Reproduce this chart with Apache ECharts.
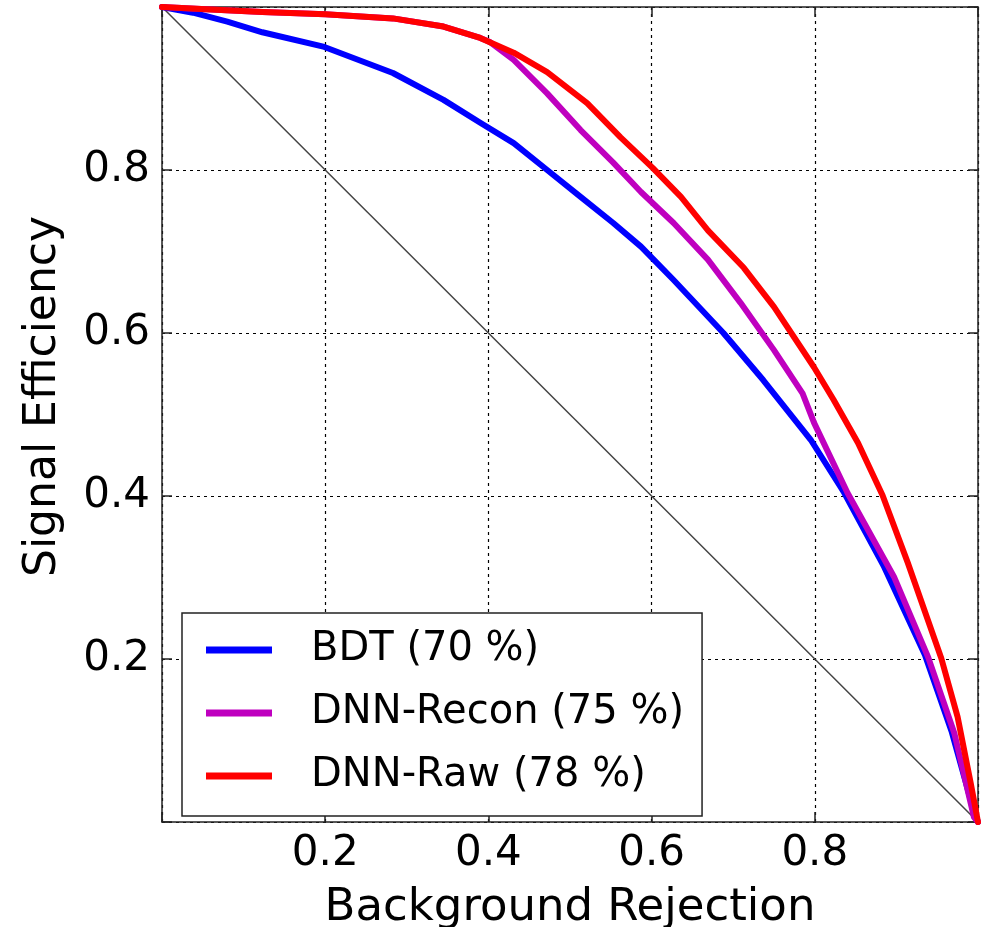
<!DOCTYPE html>
<html>
<head>
<meta charset="utf-8">
<script src="https://cdn.jsdelivr.net/npm/echarts@6/dist/echarts.min.js"></script>
<style>
  html, body { margin: 0; padding: 0; background: #fff; }
  #chart { width: 987px; height: 927px; }
</style>
</head>
<body>
<div id="chart"></div>
<script>
// ROC curves
var bdtRej = [0, 0.038, 0.08, 0.123, 0.199, 0.283, 0.345, 0.39, 0.431, 0.472, 0.513, 0.553, 0.587, 0.627, 0.688, 0.737, 0.795, 0.836, 0.885, 0.935, 0.968, 0.993, 1.0];
var bdtEff = [1.0, 0.993, 0.982, 0.969, 0.951, 0.919, 0.886, 0.858, 0.833, 0.8, 0.767, 0.735, 0.706, 0.665, 0.6, 0.542, 0.469, 0.404, 0.313, 0.205, 0.11, 0.02, 0];

var reconRej = [0, 0.06, 0.123, 0.2, 0.283, 0.345, 0.39, 0.402, 0.431, 0.472, 0.513, 0.553, 0.587, 0.627, 0.669, 0.709, 0.75, 0.785, 0.799, 0.84, 0.897, 0.939, 0.971, 0.995, 1.0];
var reconEff = [1.0, 0.997, 0.994, 0.991, 0.986, 0.976, 0.962, 0.957, 0.935, 0.894, 0.849, 0.809, 0.773, 0.735, 0.69, 0.637, 0.579, 0.526, 0.49, 0.404, 0.301, 0.202, 0.109, 0.006, 0];

var rawRej = [0, 0.06, 0.123, 0.2, 0.283, 0.345, 0.39, 0.431, 0.472, 0.521, 0.562, 0.601, 0.636, 0.669, 0.713, 0.75, 0.799, 0.823, 0.853, 0.883, 0.914, 0.955, 0.975, 0.991, 1.0];
var rawEff = [1.0, 0.997, 0.994, 0.991, 0.986, 0.976, 0.962, 0.944, 0.92, 0.882, 0.84, 0.803, 0.767, 0.726, 0.68, 0.632, 0.558, 0.518, 0.465, 0.401, 0.318, 0.201, 0.129, 0.048, 0];

var diagRej = [0, 1];
var diagEff = [1, 0];

var seriesNames = ['BDT (70 %)', 'DNN-Recon (75 %)', 'DNN-Raw (78 %)'];
var seriesColors = ['#0000ff', '#bf00bf', '#ff0000'];
var tickLabels = ['0.2', '0.4', '0.6', '0.8'];

function pairs(xs, ys) {
    var out = [];
    for (var i = 0; i < xs.length; i++) out.push([xs[i], ys[i]]);
    return out;
}

function tickFmt(v) {
    var s = v.toFixed(1);
    return tickLabels.indexOf(s) >= 0 ? s : '';
}

var font = 'DejaVu Sans';
var gridLine = { show: true, lineStyle: { color: '#000', type: [3, 4], width: 1.2 } };
var axisLine = { show: true, onZero: false, lineStyle: { color: '#222', width: 1.5 } };
var tick = { show: true, inside: true, length: 10, lineStyle: { color: '#222', width: 1.5 } };

var myChart = echarts.init(document.getElementById('chart'));

var option = {
    animation: false,
    backgroundColor: '#fff',
    grid: { left: 162, top: 7, right: 9, bottom: 105, containLabel: false, outerBoundsMode: 'none' },
    legend: {
        orient: 'vertical',
        left: 182,
        top: 613,
        padding: [13, 18, 16, 24],
        backgroundColor: '#fff',
        borderColor: '#222',
        borderWidth: 1.5,
        borderRadius: 0,
        icon: 'rect',
        itemWidth: 66,
        itemHeight: 7,
        itemGap: 15,
        textStyle: { fontFamily: font, fontSize: 40, color: '#000', lineHeight: 48, padding: [0, 0, 0, 34] },
        data: seriesNames
    },
    xAxis: [
        {
            type: 'value', min: 0, max: 1, interval: 0.2,
            name: 'Background Rejection', nameLocation: 'middle', nameGap: 64,
            nameTextStyle: { fontFamily: font, fontSize: 45, color: '#000' },
            axisLine: axisLine, axisTick: tick, splitLine: gridLine,
            axisLabel: { formatter: tickFmt, fontFamily: font, fontSize: 42, color: '#000', margin: 11 }
        },
        {
            type: 'value', position: 'top', min: 0, max: 1, interval: 0.2,
            axisLine: axisLine, axisTick: tick, splitLine: { show: false }, axisLabel: { show: false }
        }
    ],
    yAxis: [
        {
            type: 'value', min: 0, max: 1, interval: 0.2,
            name: 'Signal Efficiency', nameLocation: 'middle', nameGap: 96,
            nameTextStyle: { fontFamily: font, fontSize: 44, color: '#000', padding: [0, 0, 0, 36] },
            axisLine: axisLine, axisTick: tick, splitLine: gridLine,
            axisLabel: { formatter: tickFmt, fontFamily: font, fontSize: 42, color: '#000', margin: 12 }
        },
        {
            type: 'value', position: 'right', min: 0, max: 1, interval: 0.2,
            axisLine: axisLine, axisTick: tick, splitLine: { show: false }, axisLabel: { show: false }
        }
    ],
    series: [
        {
            name: 'diag', type: 'line', symbol: 'none', silent: true,
            lineStyle: { color: '#444', width: 1.5 },
            data: pairs(diagRej, diagEff)
        },
        {
            name: seriesNames[0], type: 'line', symbol: 'none', color: seriesColors[0],
            lineStyle: { width: 6, join: 'round', cap: 'round' }, data: pairs(bdtRej, bdtEff)
        },
        {
            name: seriesNames[1], type: 'line', symbol: 'none', color: seriesColors[1],
            lineStyle: { width: 6, join: 'round', cap: 'round' }, data: pairs(reconRej, reconEff)
        },
        {
            name: seriesNames[2], type: 'line', symbol: 'none', color: seriesColors[2],
            lineStyle: { width: 6, join: 'round', cap: 'round' }, data: pairs(rawRej, rawEff)
        }
    ]
};

myChart.setOption(option);
</script>
</body>
</html>
